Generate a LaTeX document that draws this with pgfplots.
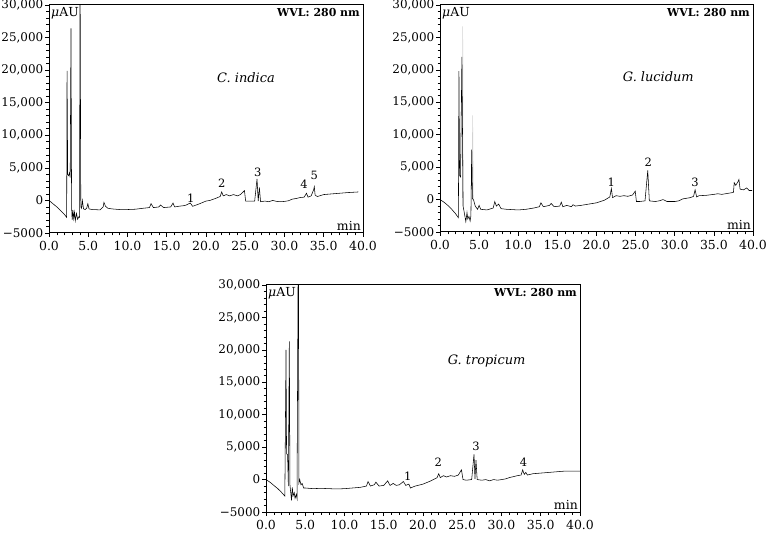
\documentclass[border=0pt]{standalone}
\usepackage{fontspec}
\setmainfont{DejaVu Serif}
\usepackage{pgfplots}
\pgfplotsset{compat=1.18}
\pgfplotsset{
  chrom/.style={
    scale only axis,
    width=314bp, height=228bp,
    xmin=0, xmax=40, ymin=-5000, ymax=30000,
    scaled y ticks=false, scaled x ticks=false,
    xtick={0,5,10,15,20,25,30,35,40},
    xticklabels={0.0,5.0,10.0,15.0,20.0,25.0,30.0,35.0,40.0},
    ytick={-5000,0,5000,10000,15000,20000,25000,30000},
    yticklabels={−5000,0,{5,000},{10,000},{15,000},{20,000},{25,000},{30,000}},
    minor x tick num=4, minor y tick num=4,
    tick align=outside, tick pos=left,
    major tick length=4bp, minor tick length=2.5bp,
    tick style={black, line width=0.6pt},
    axis line style={line width=1pt},
    tick label style={font=\fontsize{12.5}{14}\selectfont},
    yticklabel style={font=\fontsize{12}{14}\selectfont, inner sep=1.5pt},
    xticklabel style={yshift=-1bp},
    anchor=south west,
  },
}
\tikzset{
  trace/.style={black, line width=0.55pt},
  pk/.style={font=\fontsize{11.5}{12}\selectfont, inner sep=1pt},
}
\newcommand{\deco}[1]{%
  \node[anchor=north west, inner sep=2pt, font=\fontsize{12.5}{13}\selectfont] at (rel axis cs:0,1) {\textit{μ}AU};
  \node[anchor=north east, inner sep=3pt, font=\fontsize{11}{13}\selectfont\bfseries] at (rel axis cs:1,1) {WVL: 280 nm};
  \node[anchor=south east, inner sep=2pt, font=\fontsize{12.5}{13}\selectfont] at (rel axis cs:1,0) {min};
}
\begin{document}
\begin{tikzpicture}
\path[use as bounding box] (0,0) rectangle (767bp,533bp);
% ---------- C. indica ----------
\begin{axis}[chrom, at={(49bp,300bp)}]
\addplot[trace, no marks] coordinates {
(0,0) (0.5,-500) (1,-1000) (1.5,-1600) (2.0,-2200) (2.25,-2600) (2.3,19900) (2.38,4000) (2.5,3800) (2.6,4200) (2.7,3500) (2.8,26400) (2.88,-1000) (2.95,-3000) (3.05,-1500) (3.15,-2800) (3.25,-1800) (3.35,-3100) (3.5,-2000) (3.65,-2900) (3.8,-2500) (3.9,-2600) (3.95,40000) (4.05,-1000) (4.15,-1200) (4.25,0) (4.4,-1300) (4.6,-1400) (4.8,-1200) (4.95,-500) (5.1,-1300) (5.5,-1400) (6.5,-1450) (6.9,-1000) (7.0,-300) (7.2,-900) (7.5,-1200) (8,-1300) (9,-1400) (10,-1400) (11,-1350) (12,-1200) (12.8,-1100) (13,-500) (13.3,-1100) (14,-1000) (14.2,-700) (14.6,-1100) (15.5,-1000) (15.8,-400) (16,-1000) (16.5,-900) (17.2,-800) (17.5,-700) (18,-400) (18.3,-900) (19,-600) (20,-100) (20.5,0) (21.2,300) (21.8,600) (22,1300) (22.2,700) (22.6,900) (23,700) (23.5,900) (24,700) (24.4,900) (24.9,1500) (25.05,-100) (25.5,-100) (26.2,-100) (26.5,3300) (26.65,-100) (26.8,2000) (26.95,-200) (27.5,-100) (28,-200) (28.5,0) (29,-150) (29.5,-200) (30,-150) (30.5,-50) (31,200) (31.5,300) (32,450) (32.5,500) (32.8,1100) (33.0,500) (33.4,700) (33.7,1600) (33.8,2100) (33.9,800) (34.2,600) (35,900) (36,1000) (37,1100) (38,1200) (39.4,1300)
};
\deco{}
\node[font=\fontsize{13}{15}\selectfont\itshape] at (axis cs:25.1,18900) {C. indica};
\node[pk] at (axis cs:18.05,300) {1};
\node[pk] at (axis cs:22,2600) {2};
\node[pk] at (axis cs:26.6,4250) {3};
\node[pk] at (axis cs:32.5,2450) {4};
\node[pk] at (axis cs:33.8,3900) {5};
\end{axis}
% ---------- G. lucidum ----------
\begin{axis}[chrom, at={(440bp,301bp)}, width=313bp, height=227bp]
\addplot[gray!35, line width=0.55pt, no marks] coordinates {(2.86,-1000) (2.9,26700) (2.95,-1000)};
\addplot[gray!35, line width=0.55pt, no marks] coordinates {(4.1,0) (4.17,13000) (4.25,0)};
\addplot[trace, no marks] coordinates {
(0,0) (0.5,-400) (1,-900) (1.5,-1500) (2,-2200) (2.35,-2800) (2.42,19800) (2.5,3700) (2.62,3500) (2.8,22000) (2.95,-1000) (3.1,-2000) (3.3,-3400) (3.45,-2000) (3.55,-3000) (3.7,-2600) (3.85,-3300) (3.95,-2500) (4.05,7700) (4.15,200) (4.3,-100) (4.5,-1000) (4.8,-1500) (5.0,-900) (5.2,-1500) (6,-1600) (6.8,-1300) (7.0,-300) (7.2,-1000) (7.5,-700) (7.8,-1400) (8.5,-1500) (10,-1600) (11,-1500) (12,-1300) (12.7,-1100) (12.9,-500) (13.2,-1100) (14,-900) (14.2,-600) (14.6,-1100) (15.3,-1000) (15.5,-400) (15.7,-1100) (16.2,-900) (16.8,-1100) (17,-800) (17.3,-1000) (18,-900) (19,-700) (20,-500) (21,-100) (21.7,400) (21.9,1700) (22.05,300) (22.5,600) (23,500) (23.5,600) (24,500) (24.6,700) (24.95,1300) (25.1,-300) (25.5,-300) (26.2,-200) (26.55,4500) (26.75,-200) (27.5,-300) (28,-200) (28.5,0) (29,-300) (30,-300) (30.5,-200) (31,100) (32,300) (32.4,500) (32.6,1500) (32.8,400) (33.1,600) (34,650) (35,800) (35.5,900) (36,800) (37,1000) (37.5,1100) (37.6,2600) (37.8,2200) (38.1,2800) (38.2,3100) (38.35,1600) (38.8,1500) (39.2,1800) (39.5,1400) (39.9,1400)
};
\deco{}
\node[font=\fontsize{13}{15}\selectfont\itshape] at (axis cs:27.9,18900) {G. lucidum};
\node[pk] at (axis cs:21.9,2700) {1};
\node[pk] at (axis cs:26.6,5700) {2};
\node[pk] at (axis cs:32.6,2600) {3};
\end{axis}
% ---------- G. tropicum ----------
\begin{axis}[chrom, at={(266bp,21bp)}, height=227bp]
\addplot[trace, no marks] coordinates {
(0,0) (0.5,-400) (1,-900) (1.5,-1400) (2,-2000) (2.4,-2550) (2.55,20000) (2.62,4000) (2.75,3800) (2.85,-1000) (2.97,21300) (3.05,-800) (3.15,-2000) (3.25,-3200) (3.35,-1200) (3.45,-2500) (3.6,-2000) (3.7,-2900) (3.85,-2300) (3.95,-2900) (4.12,40000) (4.2,-500) (4.3,0) (4.45,-800) (4.6,-600) (4.8,-1300) (5,-1300) (6,-1400) (7,-1350) (8,-1400) (9,-1450) (10,-1400) (11,-1300) (12,-1200) (12.8,-1000) (13,-300) (13.3,-1000) (13.8,-800) (14,-400) (14.4,-1000) (15,-900) (15.5,-200) (15.8,-900) (16.2,-600) (16.6,-900) (17,-800) (17.5,-300) (17.8,-900) (18.2,-700) (18.4,-1300) (19,-1000) (20,-700) (21,-200) (21.8,300) (22,900) (22.2,300) (22.6,600) (23,400) (23.5,600) (24,500) (24.5,700) (24.9,1500) (25.1,0) (25.5,-100) (26.2,0) (26.5,3900) (26.62,100) (26.75,3000) (26.9,0) (27.5,-100) (28,0) (28.5,-200) (29,0) (29.5,-100) (30,0) (30.5,100) (31,300) (32,600) (32.5,700) (32.7,1500) (32.9,800) (33.1,1100) (33.3,700) (34,900) (35,1000) (36,1100) (37,1200) (38,1300) (39,1300) (40,1300)
};
\deco{}
\node[font=\fontsize{13}{15}\selectfont\itshape] at (axis cs:28.1,18200) {G. tropicum};
\node[pk] at (axis cs:18.05,500) {1};
\node[pk] at (axis cs:21.95,2650) {2};
\node[pk] at (axis cs:26.75,5100) {3};
\node[pk] at (axis cs:32.8,2650) {4};
\end{axis}
\end{tikzpicture}
\end{document}
